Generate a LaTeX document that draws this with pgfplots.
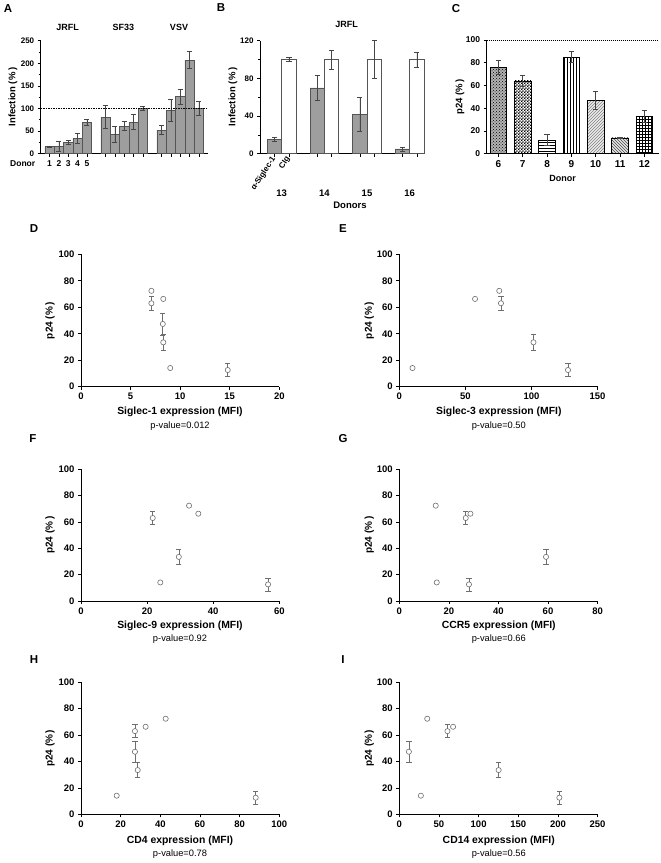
\documentclass[border=0pt]{standalone}
\usepackage{fontspec}
\setmainfont{Liberation Sans}
\usepackage{pgfplots}
\usepackage{pgfplotstable}
\pgfplotsset{compat=1.18}
\usetikzlibrary{patterns}
\newcommand{\fs}[1]{\fontsize{#1}{#1}\selectfont}
\pgfdeclarepatternformonly{finecheck}{\pgfpointorigin}{\pgfqpoint{3.2pt}{3.2pt}}{\pgfqpoint{3.2pt}{3.2pt}}{%
 \pgfpathrectangle{\pgfpointorigin}{\pgfqpoint{1.6pt}{1.6pt}}%
 \pgfpathrectangle{\pgfqpoint{1.6pt}{1.6pt}}{\pgfqpoint{1.6pt}{1.6pt}}%
 \pgfusepath{fill}}
\definecolor{barg}{RGB}{158,158,158}
\definecolor{edg}{RGB}{85,85,85}
\definecolor{errc}{RGB}{70,70,70}
\definecolor{mk}{RGB}{110,110,110}

\pgfplotstableread{
x y e
0 16 1
1 16 11
2 25 4
3 34 12
4 69 7
6 81 25
7 43 17
8 61 10
9 70 17
10 100 4
12 52 10
13 96 24
14 126 17
15 207 19
16 101 16
}\dataA
\pgfplotstableread{
x y e
-0.168 15 2
0.832 70 13
1.832 42 18
2.832 5 2
}\dataBg
\pgfplotstableread{
x y e
0.168 100 2
1.168 100 10
2.168 100 20
3.168 100 8
}\dataBw

\pgfplotsset{
 base/.style={scale only axis, axis x line*=bottom, axis y line*=left,
  tick align=outside, major tick length=3pt, minor tick length=2pt,
  every tick/.style={black, line width=0.6pt},
  axis line style={black, line width=0.7pt},
  /pgf/number format/assume math mode=true, ymin=0, clip=false,
  anchor=south west},
 scat/.style={base, width=198.3pt, ymax=100, ytick={0,20,...,100},
  ticklabel style={font=\bfseries\fs{9.5}}},
 ebar/.style={error bars/.cd, y dir=both, y explicit,
  error bar style={#1, line width=0.6pt},
  error mark options={rotate=90, mark size=2.6pt, #1, line width=0.6pt}},
 pts/.style={only marks, mark=*, mark size=2.6pt,
  mark options={fill=white, draw=mk, line width=0.6pt}},
}

\begin{document}
\begin{tikzpicture}
\path[use as bounding box] (0,0) rectangle (661pt,863pt);

% ---------------- A ----------------
\begin{axis}[base, at={(40.7pt,709.3pt)}, width=167pt, height=113pt,
  xmin=-0.95, xmax=16.95, ymax=250, ytick={0,50,...,250}, minor y tick num=1,
  xtick={0,1,2,3,4,6,7,8,9,10,12,13,14,15,16},
  xticklabels={1,2,3,4,5,{},{},{},{},{},{},{},{},{},{}},
  yticklabel style={font=\bfseries\fs{8}},
  xticklabel style={font=\bfseries\fs{8.5}}]
\addplot[ybar, bar width=1, bar shift=0pt, fill=barg, draw=edg, line width=0.5pt,
  ebar=errc] table[x=x, y=y, y error=e] {\dataA};
\draw[dash pattern=on 1.5pt off 1pt, line width=0.5pt] (axis cs:-0.95,100) -- (axis cs:16.95,100);
\end{axis}
\node[font=\bfseries\fs{9.5}, rotate=90] at (13pt,766pt) {Infection (\%\,)};
\node[font=\bfseries\fs{8.5}] at (22.7pt,699.7pt) {Donor};
\node[font=\bfseries\fs{9}] at (67.7pt,835.3pt) {JRFL};
\node[font=\bfseries\fs{9}] at (123.3pt,835.3pt) {SF33};
\node[font=\bfseries\fs{9}] at (179pt,835.3pt) {VSV};

% ---------------- B ----------------
\begin{axis}[base, at={(260pt,709.3pt)}, width=165pt, height=113pt,
  xmin=-0.51, xmax=3.36, ymax=120, ytick={0,40,80,120}, minor y tick num=1,
  xtick={-0.168,0.168,0.832,1.168,1.832,2.168,2.832,3.168},
  xticklabels={α-Siglec-1,CIg,{},{},{},{},{},{}},
  yticklabel style={font=\bfseries\fs{8}},
  xticklabel style={font=\bfseries\fs{8}, rotate=57, anchor=east, inner sep=1pt}]
\addplot[ybar, bar width=0.336, bar shift=0pt, fill=barg, draw=edg, line width=0.5pt,
  ebar=errc] table[x=x, y=y, y error=e] {\dataBg};
\addplot[ybar, bar width=0.336, bar shift=0pt, fill=white, draw=edg, line width=0.5pt,
  ebar=errc] table[x=x, y=y, y error=e] {\dataBw};
\node[font=\bfseries\fs{9.5}] at (axis cs:0,0) [yshift=-39.3pt] {13};
\node[font=\bfseries\fs{9.5}] at (axis cs:1,0) [yshift=-39.3pt] {14};
\node[font=\bfseries\fs{9.5}] at (axis cs:2,0) [yshift=-39.3pt] {15};
\node[font=\bfseries\fs{9.5}] at (axis cs:3,0) [yshift=-39.3pt] {16};
\end{axis}
\node[font=\bfseries\fs{9.5}, rotate=90] at (233pt,766pt) {Infection (\%\,)};
\node[font=\bfseries\fs{9.5}] at (350pt,658pt) {Donors};
\node[font=\bfseries\fs{9}] at (346.7pt,839pt) {JRFL};

% ---------------- C ----------------
\begin{axis}[base, at={(486.7pt,709.3pt)}, width=171.8pt, height=113.7pt,
  xmin=-0.48, xmax=6.58, ymax=100, ytick={0,20,...,100},
  xtick={0,...,6}, xticklabels={6,7,8,9,10,11,12},
  yticklabel style={font=\bfseries\fs{8.5}},
  xticklabel style={font=\bfseries\fs{10}}]
\addplot[ybar, bar width=0.685, bar shift=0pt, fill=gray!60, draw=black, line width=0.5pt,
  postaction={pattern=crosshatch dots, pattern color=black}, ebar=errc]
  coordinates {(0,76) +- (0,6)};
\addplot[ybar, bar width=0.685, bar shift=0pt, fill=white, draw=black, line width=0.5pt,
  postaction={pattern=finecheck, pattern color=black}, ebar=errc]
  coordinates {(1,64) +- (0,5)};
\addplot[ybar, bar width=0.685, bar shift=0pt, fill=white, draw=black, line width=0.5pt,
  postaction={pattern=horizontal lines, pattern color=black}, ebar=errc]
  coordinates {(2,12) +- (0,5)};
\addplot[ybar, bar width=0.685, bar shift=0pt, fill=white, draw=black, line width=0.5pt,
  postaction={pattern=vertical lines, pattern color=black}, ebar=errc]
  coordinates {(3,85) +- (0,5)};
\addplot[ybar, bar width=0.685, bar shift=0pt, fill=gray!15, draw=black, line width=0.5pt,
  postaction={pattern=north east lines, pattern color=gray}, ebar=errc]
  coordinates {(4,47) +- (0,8)};
\addplot[ybar, bar width=0.685, bar shift=0pt, fill=gray!20, draw=black, line width=0.5pt,
  postaction={pattern=north west lines, pattern color=black!70}, ebar=errc]
  coordinates {(5,14) +- (0,0.5)};
\addplot[ybar, bar width=0.685, bar shift=0pt, fill=white, draw=black, line width=0.5pt,
  postaction={pattern=grid, pattern color=black}, ebar=errc]
  coordinates {(6,33) +- (0,5)};
\draw[dash pattern=on 1pt off 1pt, line width=0.5pt] (axis cs:-0.48,100) -- (axis cs:6.58,100);
\end{axis}
\node[font=\bfseries\fs{9.5}, rotate=90] at (460pt,766pt) {p24 (\%\,)};
\node[font=\bfseries\fs{9}] at (562.7pt,685pt) {Donor};

% ---------------- D ----------------
\begin{axis}[scat, at={(81pt,476.3pt)}, height=132.4pt, xmin=0, xmax=20, xtick={0,5,...,20}]
\addplot[pts, ebar=mk] table[x=x,y=y,y error=e] {
x y e
7.1 63 5
8.25 47.4 8.3
8.3 33.5 5.7
14.8 12.6 5
};
\addplot[pts] coordinates {(7.1,72.4) (8.3,66.3) (9.0,14.1)};
\end{axis}
% ---------------- E ----------------
\begin{axis}[scat, at={(399.3pt,476.3pt)}, height=132.4pt, xmin=0, xmax=150, xtick={0,50,...,150}]
\addplot[pts, ebar=mk] table[x=x,y=y,y error=e] {
x y e
76.9 63 5
101.5 33.5 5.7
127.6 12.6 5
};
\addplot[pts] coordinates {(10,14.1) (57.3,66.3) (75.6,72.4)};
\end{axis}
% ---------------- F ----------------
\begin{axis}[scat, at={(81pt,262pt)}, height=131.7pt, xmin=0, xmax=60, xtick={0,20,...,60}]
\addplot[pts, ebar=mk] table[x=x,y=y,y error=e] {
x y e
21.7 63 5
29.6 33.5 5.7
56.6 12.6 5
};
\addplot[pts] coordinates {(24,14.1) (32.7,72.4) (35.5,66.3)};
\end{axis}
% ---------------- G ----------------
\begin{axis}[scat, at={(399.3pt,262pt)}, height=131.7pt, xmin=0, xmax=80, xtick={0,20,...,80}]
\addplot[pts, ebar=mk] table[x=x,y=y,y error=e] {
x y e
26.8 63 5
28.1 12.6 5
59.2 33.5 5.7
};
\addplot[pts] coordinates {(14.7,72.4) (15.1,14.1) (28.7,66.3)};
\end{axis}
% ---------------- H ----------------
\begin{axis}[scat, at={(81pt,48.7pt)}, height=132pt, xmin=0, xmax=100, xtick={0,20,...,100}]
\addplot[pts, ebar=mk] table[x=x,y=y,y error=e] {
x y e
27.2 63 5
27.2 47.4 8
28.6 33.5 5.7
88.1 12.6 5
};
\addplot[pts] coordinates {(18,14.1) (32.6,66.3) (42.7,72.4)};
\end{axis}
% ---------------- I ----------------
\begin{axis}[scat, at={(399.3pt,48.7pt)}, height=132pt, xmin=0, xmax=250, xtick={0,50,...,250}]
\addplot[pts, ebar=mk] table[x=x,y=y,y error=e] {
x y e
12.1 47.4 8
60.7 63 5
125.2 33.5 5.7
201.8 12.6 5
};
\addplot[pts] coordinates {(27.2,14.1) (35.2,72.4) (67.8,66.3)};
\end{axis}

% scatter labels
\foreach \xl/\yl/\ya/\ttl/\pv in {
 180/450.7/542.5/{Siglec-1 expression (MFI)}/{0.012},
 498.8/450.7/542.5/{Siglec-3 expression (MFI)}/{0.50},
 180/237.3/327.8/{Siglec-9 expression (MFI)}/{0.92},
 498.8/237.3/327.8/{CCR5 expression (MFI)}/{0.66},
 180/22.3/114.7/{CD4 expression (MFI)}/{0.78},
 498.8/22.3/114.7/{CD14 expression (MFI)}/{0.56}}{
 \node[font=\bfseries\fs{10.4}] at (\xl pt,\yl pt) {\ttl};
 \node[font=\fs{9.3}] at (\xl pt,\yl pt-13.3pt) {p-value=\pv};
}
\foreach \xx/\yy in {50/542.5, 369.3/542.5, 50/327.8, 369.3/327.8, 50/114.7, 369.3/114.7}{
 \node[font=\bfseries\fs{10}, rotate=90] at (\xx pt,\yy pt) {p24 (\%\,)};
}

% panel letters
\foreach \l/\xx/\yy in {A/8/854, B/221/855, C/456/854, D/34/634, E/343/634, F/33/424, G/343/424, H/34/203, I/343/203}{
 \node[font=\bfseries\fs{11.5}] at (\xx pt,\yy pt) {\l};
}
\end{tikzpicture}
\end{document}
